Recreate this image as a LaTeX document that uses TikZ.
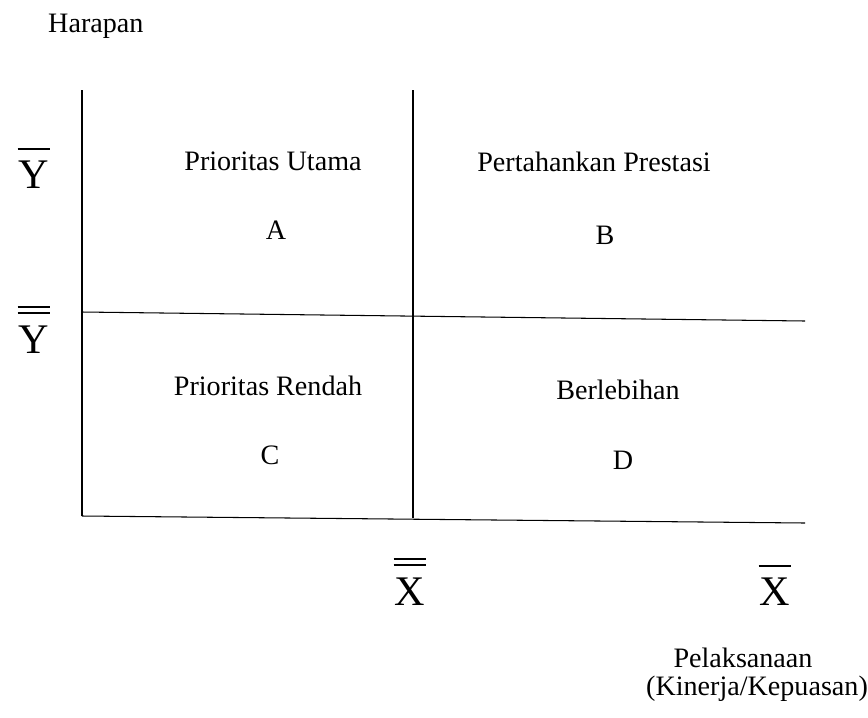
\documentclass[tikz,border=0pt]{standalone}
\usepackage{fontspec}
\setmainfont{Liberation Serif}
\begin{document}
\begin{tikzpicture}[x=0.03cm, y=-0.03cm,
    quadtext/.style={font=\fontsize{24}{28}\selectfont, inner sep=0pt},
    bigsym/.style={font=\fontsize{36}{40}\selectfont, inner sep=0pt},
    axisline/.style={line width=0.9pt},
    meanbar/.style={line width=1.3pt}]
        \useasboundingbox (0,0) rectangle (868,717);
        % corners of the quadrant frame
        \coordinate (ytop) at (82,90);
        \coordinate (ymid) at (82,312);
        \coordinate (ybot) at (82,516);
        \coordinate (xtop) at (413,90);
        \coordinate (xbot) at (413,518);
        \coordinate (midend) at (805,321);
        \coordinate (botend) at (805,523);
        \draw[axisline] (ytop) -- (ybot);
        \draw[axisline] (xtop) -- (xbot);
        \draw[axisline] (ymid) -- (midend);
        \draw[axisline] (ybot) -- (botend);
        % quadrant labels
        \node[quadtext, anchor=base] (utama) at (273,170) {Prioritas Utama};
        \node[quadtext] (qa) at (276,230) {A};
        \node[quadtext, anchor=base] (prestasi) at (594,171) {Pertahankan Prestasi};
        \node[quadtext] (qb) at (605,235) {B};
        \node[quadtext, anchor=base] (rendah) at (268,395) {Prioritas Rendah};
        \node[quadtext] (qc) at (270,455) {C};
        \node[quadtext, anchor=base] (lebih) at (618,399) {Berlebihan};
        \node[quadtext] (qd) at (623,460) {D};
        % axis titles and means
        \node[quadtext, anchor=base west] (harapan) at (48,32) {Harapan};
        \node[bigsym, anchor=base] (ybar) at (34,188) {Y};
        \node[bigsym, anchor=base] (ydbar) at (34,353) {Y};
        \node[bigsym, anchor=base] (xdbar) at (410,605) {X};
        \node[bigsym, anchor=base] (xbar) at (775,605) {X};
        \foreach \sym in {ybar, xbar}
          \draw[meanbar] ([shift={(-1,-11)}]\sym.north west) -- ([shift={(1,-11)}]\sym.north east);
        \foreach \sym in {ydbar, xdbar} {
          \draw[meanbar] ([shift={(-1,-12)}]\sym.north west) -- ([shift={(1,-12)}]\sym.north east);
          \draw[meanbar] ([shift={(-1,-18)}]\sym.north west) -- ([shift={(1,-18)}]\sym.north east);
        }
        \node[quadtext, anchor=base] (pelaks) at (743,667) {Pelaksanaan};
        \node[quadtext, anchor=base] (kinerja) at (757,695) {(Kinerja/Kepuasan)};
      \end{tikzpicture}
\end{document}
